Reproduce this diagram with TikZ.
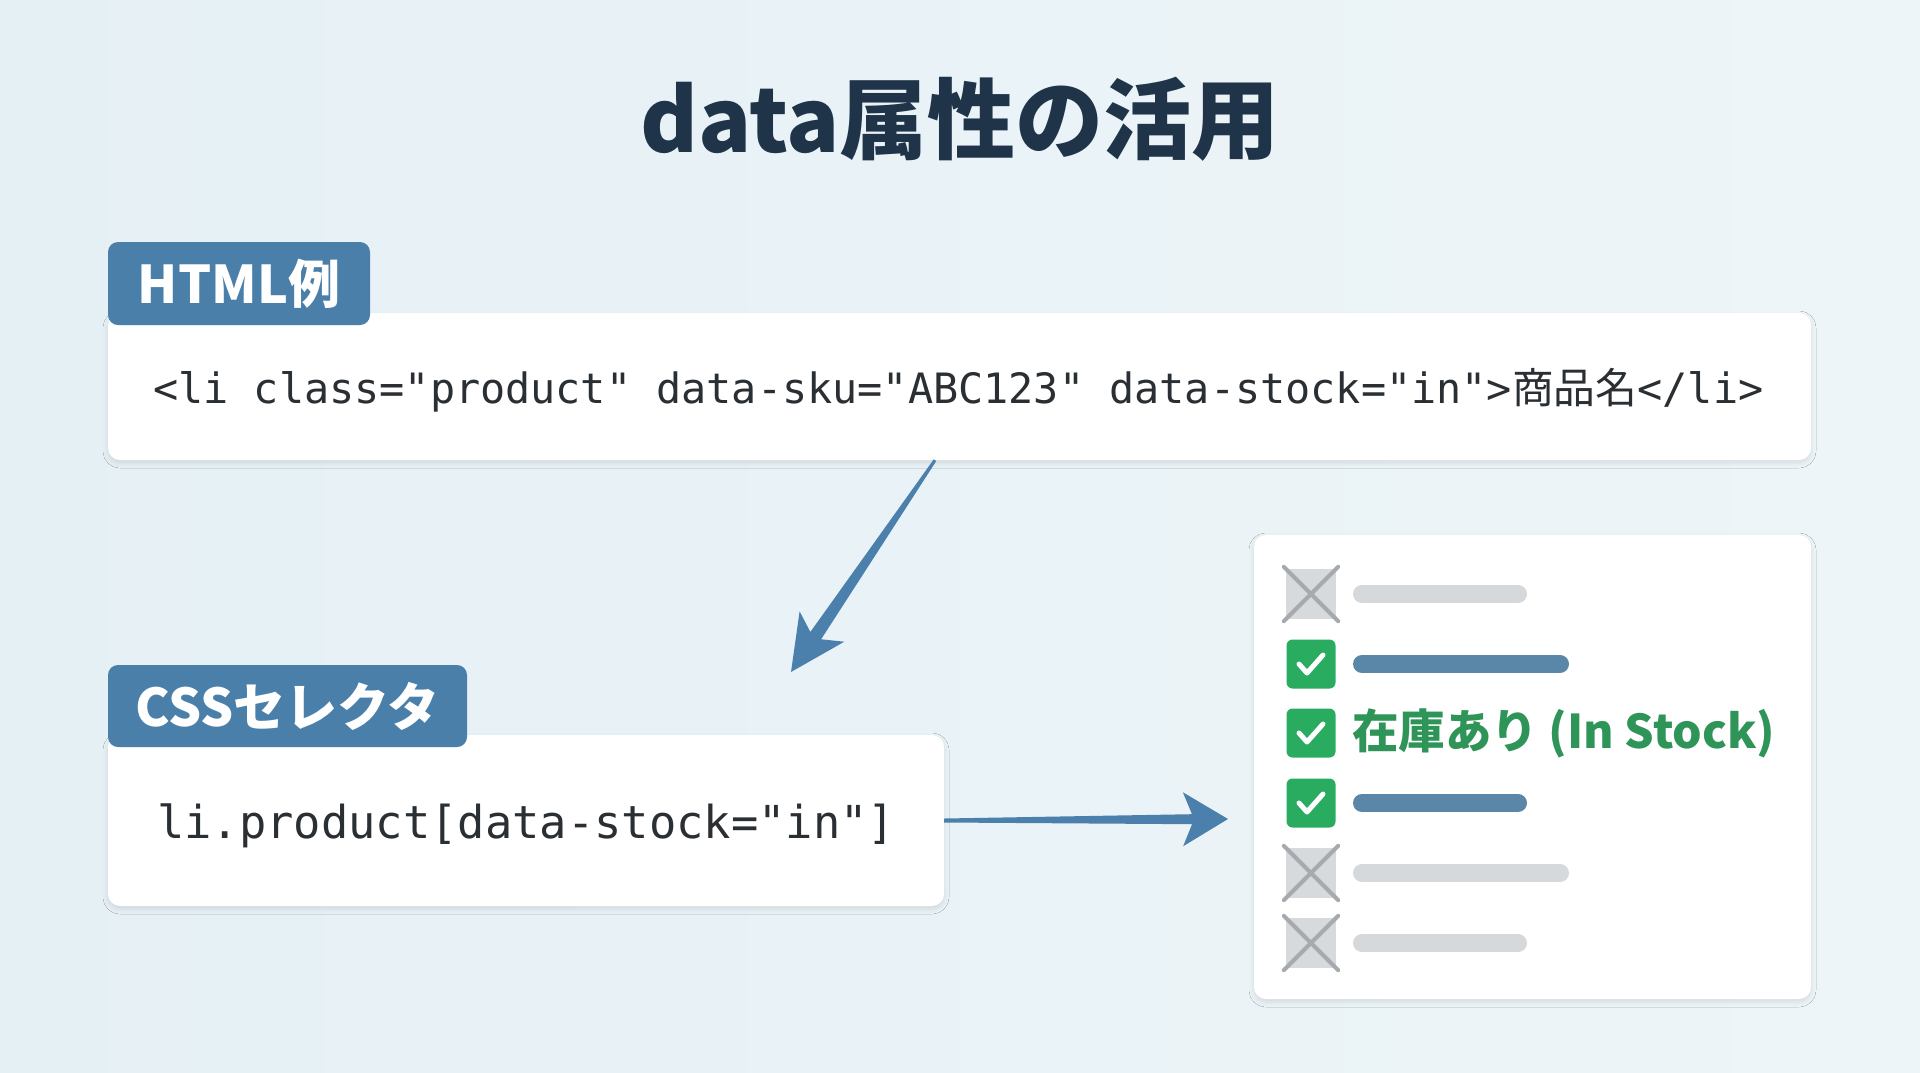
\documentclass[tikz,border=0pt]{standalone}
\usepackage{fontspec}
\setmainfont{Noto Sans CJK JP}
\newfontfamily\codefont{DejaVu Sans Mono}
\usetikzlibrary{calc,shadows.blur}
\definecolor{bgl}{HTML}{E5F0F5}
\definecolor{bgr}{HTML}{EEF5F8}
\definecolor{titlec}{HTML}{1F3448}
\definecolor{tagblue}{HTML}{4A7FAA}
\definecolor{arrowblue}{HTML}{4B80AD}
\definecolor{codec}{HTML}{2A2F34}
\definecolor{okgreen}{HTML}{29AB60}
\definecolor{nogray}{HTML}{D6DADD}
\definecolor{xgray}{HTML}{A6AAAE}
\definecolor{barblue}{HTML}{5A86A8}
\definecolor{bargray}{HTML}{D5D9DC}
\definecolor{stockgreen}{HTML}{2E9458}
\tikzset{
  card/.style={fill=white, rounded corners=12pt, inner sep=0pt,
    blur shadow={shadow xshift=0pt, shadow yshift=-3pt, shadow blur radius=5pt, shadow opacity=10}},
  tag/.style={fill=tagblue, rounded corners=10pt, inner sep=0pt, text=white,
    font=\fontsize{52}{60}\selectfont\bfseries},
  okbox/.style={fill=okgreen, rounded corners=6pt, minimum size=49pt, inner sep=0pt},
  nobox/.style={fill=nogray, minimum size=50pt, inner sep=0pt},
  xline/.style={draw=xgray, line width=4pt, line cap=round},
  tick/.style={draw=white, line width=5pt, line cap=round, line join=round},
  bluebar/.style={draw=barblue, line width=18pt, line cap=round},
  graybar/.style={draw=bargray, line width=18pt, line cap=round},
}
\begin{document}
\begin{tikzpicture}[x=1pt,y=-1pt]
\useasboundingbox (0,0) rectangle (1920,1072);
\shade[left color=bgl, right color=bgr] (0,0) rectangle (1920,1072);

% title
\node[font=\fontsize{88}{100}\selectfont\bfseries, text=titlec, anchor=base, inner sep=0pt] (title) at (960,152) {data属性の活用};

% HTML card
\node[card, minimum width=1703pt, minimum height=147pt] (htmlbox) at (959.5,386.5) {};
\node[tag, minimum width=262pt, minimum height=83pt] (htmltag) at (239,283.5) {HTML例};
\node[font=\codefont\fontsize{41.8}{50}\selectfont, text=codec, inner sep=0pt, anchor=base west] (htmlcode) at (153,403)
  {<li class="product" data-sku="ABC123" data-stock="in">{\rmfamily 商品名}</li>};

% CSS card
\node[card, minimum width=836pt, minimum height=171pt] (cssbox) at (526,820.5) {};
\node[tag, minimum width=359pt, minimum height=82pt] (csstag) at (287.5,706) {CSSセレクタ};
\node[font=\codefont\fontsize{45.4}{54}\selectfont, text=codec, inner sep=0pt, anchor=base west] (csscode) at (157,838)
  {li.product[data-stock="in"]};

% result panel
\node[card, minimum width=557pt, minimum height=464pt] (panel) at (1532.5,767) {};

% rows
\node[nobox] (n1) at (1311,594) {};
\node[okbox] (k2) at (1311,664) {};
\node[okbox] (k3) at (1311,733) {};
\node[okbox] (k4) at (1311,803) {};
\node[nobox] (n5) at (1311,873) {};
\node[nobox] (n6) at (1311,943) {};

\foreach \g in {n1,n5,n6}{
  \draw[xline] ([shift={(-2,-2)}]\g.north west) -- ([shift={(2,2)}]\g.south east);
  \draw[xline] ([shift={(2,-2)}]\g.north east) -- ([shift={(-2,2)}]\g.south west);
}
\foreach \k in {k2,k3,k4}{
  \draw[tick] ([shift={(-12,0)}]\k.center) -- ([shift={(-4,9)}]\k.center) -- ([shift={(12,-9)}]\k.center);
}

\draw[graybar] (1362,594) -- (1518,594);
\draw[bluebar] (1362,664) -- (1560,664);
\node[anchor=west, inner sep=0pt, text=stockgreen, font=\fontsize{46.5}{56}\selectfont\bfseries] (stock) at (1352,733) {在庫あり (In Stock)};
\draw[bluebar] (1362,803) -- (1518,803);
\draw[graybar] (1362,873) -- (1560,873);
\draw[graybar] (1362,943) -- (1518,943);

% arrow 1: HTML -> CSS
\coordinate (a1s) at ([xshift=-24.5pt]htmlbox.south);
\coordinate (a1e) at (791,672);
\path ($(a1e)!55pt!(a1s)$) coordinate (a1b) ($(a1e)!44pt!(a1s)$) coordinate (a1n);
\fill[arrowblue] ($(a1s)!1.5pt!90:(a1e)$) -- ($(a1n)!6.5pt!-90:(a1s)$) -- ($(a1b)!27pt!-90:(a1s)$)
  -- (a1e) -- ($(a1b)!27pt!90:(a1s)$) -- ($(a1n)!6.5pt!90:(a1s)$) -- ($(a1s)!1.5pt!-90:(a1e)$) -- cycle;

% arrow 2: CSS -> panel
\coordinate (a2s) at (cssbox.east);
\coordinate (a2e) at (1228,819);
\path ($(a2e)!45pt!(a2s)$) coordinate (a2b) ($(a2e)!36pt!(a2s)$) coordinate (a2n);
\fill[arrowblue] ($(a2s)!2pt!90:(a2e)$) -- ($(a2n)!5pt!-90:(a2s)$) -- ($(a2b)!27pt!-90:(a2s)$)
  -- (a2e) -- ($(a2b)!27pt!90:(a2s)$) -- ($(a2n)!5pt!90:(a2s)$) -- ($(a2s)!2pt!-90:(a2e)$) -- cycle;
\end{tikzpicture}
\end{document}
